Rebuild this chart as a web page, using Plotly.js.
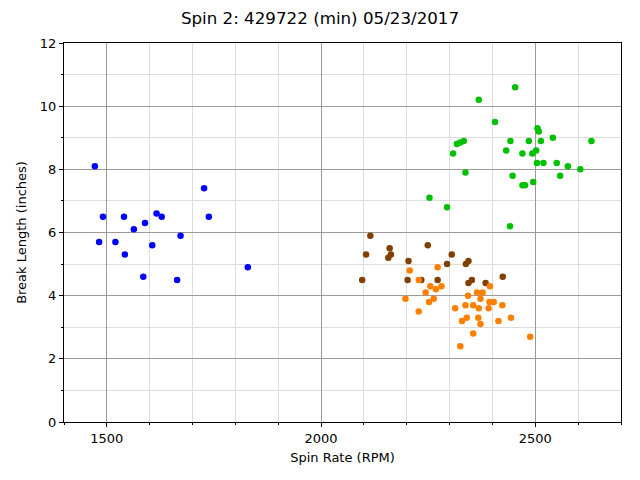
<!DOCTYPE html>
<html>
<head>
<meta charset="utf-8">
<script src="https://cdn.plot.ly/plotly-3.0.1.min.js"></script>
<style>body{margin:0;padding:0;}</style>
</head>
<body>
<div id="spin-plot" style="width:640px;height:480px;"></div>
<script>
var blue_x = [1472, 1491, 1482, 1520, 1540, 1542, 1563, 1589, 1585, 1606, 1616, 1628, 1664, 1672, 1727, 1738, 1829];
var blue_y = [8.1, 6.5, 5.7, 5.7, 6.5, 5.3, 6.1, 6.3, 4.6, 5.6, 6.6, 6.5, 4.5, 5.9, 7.4, 6.5, 4.9];

var brown_x = [2115, 2105, 2160, 2163, 2157, 2096, 2204, 2202, 2249, 2234, 2272, 2305, 2294, 2344, 2338, 2352, 2344, 2384, 2424];
var brown_y = [5.9, 5.3, 5.5, 5.3, 5.2, 4.5, 5.1, 4.5, 5.6, 4.5, 4.5, 5.3, 5.0, 5.1, 5.0, 4.5, 4.4, 4.4, 4.6];

var orange_x = [2207, 2272, 2228, 2255, 2281, 2268, 2244, 2263, 2252, 2197, 2228, 2394, 2364, 2377, 2343, 2372, 2393, 2403,
  2337, 2355, 2368, 2391, 2423, 2313, 2340, 2329, 2367, 2372, 2414, 2443, 2355, 2325, 2488];
var orange_y = [4.8, 4.9, 4.5, 4.3, 4.3, 4.2, 4.1, 3.9, 3.8, 3.9, 3.5, 4.3, 4.1, 4.1, 4.0, 3.9, 3.8, 3.8,
  3.7, 3.7, 3.6, 3.6, 3.7, 3.6, 3.3, 3.2, 3.3, 3.1, 3.2, 3.3, 2.8, 2.4, 2.7];

var green_x = [2453, 2368, 2406, 2505, 2508, 2541, 2631, 2442, 2485, 2513, 2333, 2325, 2317, 2308, 2432, 2470, 2493, 2502,
  2504, 2519, 2550, 2576, 2605, 2337, 2447, 2558, 2470, 2476, 2495, 2253, 2294, 2441];
var green_y = [10.6, 10.2, 9.5, 9.3, 9.2, 9.0, 8.9, 8.9, 8.9, 8.9, 8.9, 8.85, 8.8, 8.5, 8.6, 8.5, 8.5, 8.6,
  8.2, 8.2, 8.2, 8.1, 8.0, 7.9, 7.8, 7.8, 7.5, 7.5, 7.6, 7.1, 6.8, 6.2];

function pts(x, y, color) {
  return {
    x: x, y: y, mode: 'markers', type: 'scatter',
    marker: {color: color, size: 6.5, line: {width: 0}},
    hoverinfo: 'x+y'
  };
}

var data = [
  pts(blue_x, blue_y, '#0000ff'),
  pts(brown_x, brown_y, '#804000'),
  pts(orange_x, orange_y, '#ff8000'),
  pts(green_x, green_y, '#00c000')
];

var axisCommon = {
  showline: true, linecolor: '#000', linewidth: 1, mirror: true,
  ticks: 'outside', ticklen: 4, tickcolor: '#000',
  showgrid: true, gridcolor: '#9a9a9a', gridwidth: 1,
  zeroline: false,
  tickfont: {family: 'DejaVu Sans', size: 13, color: '#000'}
};

var layout = {
  width: 640, height: 480,
  margin: {l: 64, r: 19, t: 43, b: 58},
  paper_bgcolor: '#fff', plot_bgcolor: '#fff',
  showlegend: false,
  font: {family: 'DejaVu Sans', color: '#000'},
  title: {text: 'Spin 2: 429722 (min) 05/23/2017', x: 0.5, xanchor: 'center', y: 0.962, yanchor: 'middle',
    font: {family: 'DejaVu Sans', size: 16.7, color: '#000'}},
  xaxis: Object.assign({}, axisCommon, {
    range: [1400, 2700], tick0: 0, dtick: 500,
    minor: {dtick: 100, showgrid: true, gridcolor: '#dcdcdc', ticks: 'outside', ticklen: 2, tickcolor: '#000'},
    title: {text: 'Spin Rate (RPM)', font: {family: 'DejaVu Sans', size: 13, color: '#000'}, standoff: 8}
  }),
  yaxis: Object.assign({}, axisCommon, {
    range: [0, 12], tick0: 0, dtick: 2,
    minor: {dtick: 1, showgrid: true, gridcolor: '#dcdcdc', ticks: 'outside', ticklen: 2, tickcolor: '#000'},
    title: {text: 'Break Length (inches)', font: {family: 'DejaVu Sans', size: 13, color: '#000'}, standoff: 10}
  })
};

Plotly.newPlot('spin-plot', data, layout, {displayModeBar: false, staticPlot: true});
</script>
</body>
</html>
